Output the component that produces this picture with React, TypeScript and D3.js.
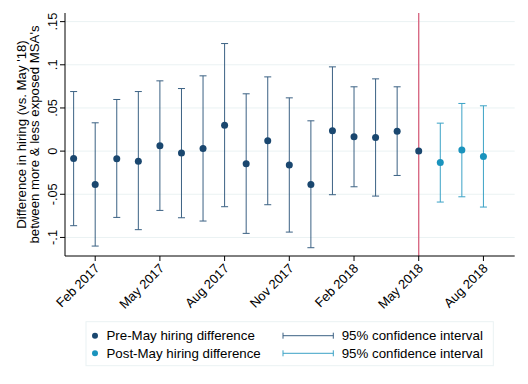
import React from "react";
import { scaleLinear } from "d3";

// months Jan 2017 .. Aug 2018 (index 0..19); May 2018 (16) is the reference month
const months = [
  "Jan 2017", "Feb 2017", "Mar 2017", "Apr 2017", "May 2017", "Jun 2017",
  "Jul 2017", "Aug 2017", "Sep 2017", "Oct 2017", "Nov 2017", "Dec 2017",
  "Jan 2018", "Feb 2018", "Mar 2018", "Apr 2018", "May 2018", "Jun 2018",
  "Jul 2018", "Aug 2018",
];
const estimate = [
  -0.0085, -0.0386, -0.0089, -0.0116, 0.0062, -0.0023, 0.0031, 0.0301, -0.0147, 0.012,
  -0.0162, -0.0386, 0.0235, 0.0166, 0.0158, 0.0231, 0, -0.0131, 0.0012, -0.0062,
];
const ciHigh = [
  0.069, 0.0328, 0.0598, 0.069, 0.0814, 0.0725, 0.0872, 0.1246, 0.0664, 0.086,
  0.0617, 0.0351, 0.0976, 0.0745, 0.0837, 0.0745, null, 0.0324, 0.0552, 0.0525,
];
const ciLow = [
  -0.0864, -0.11, -0.0768, -0.091, -0.0687, -0.0772, -0.081, -0.0644, -0.0953, -0.0621,
  -0.0938, -0.1119, -0.0505, -0.0413, -0.0521, -0.0282, null, -0.059, -0.0529, -0.0648,
];
const refIndex = 16;
const xTicks = [1, 4, 7, 10, 13, 16, 19];
const yTicks = [0.15, 0.1, 0.05, 0, -0.05, -0.1];
const yTickLabels = [".15", ".1", ".05", "0", "-.05", "-.1"];

const NAVY = "#1a476f";
const TEAL = "#1a93bd";
const FONT = "Arial, 'Liberation Sans', sans-serif";

export default function App() {
  const W = 528;
  const H = 384;
  const x = scaleLinear().domain([-0.4, 20.45]).range([65, 514.7]);
  const y = scaleLinear().domain([-0.1215, 0.16]).range([256, 13]);
  const [top, bottom] = [y.range()[1], y.range()[0]];
  const cap = 3.5;

  return (
    <svg
      width={W}
      height={H}
      style={{ position: "absolute", left: 0, top: 0, background: "#fff" }}
      fontFamily={FONT}
    >
      {/* grid */}
      {yTicks.map((t) => (
        <line key={`g${t}`} x1={65} x2={514.7} y1={y(t)} y2={y(t)} stroke="#eaf2f3" strokeWidth={1} />
      ))}

      {/* reference line */}
      <line x1={x(refIndex)} x2={x(refIndex)} y1={top} y2={bottom} stroke="#d6607c" strokeWidth={1.3} />

      {/* confidence intervals */}
      {months.map((m, i) => {
        if (ciHigh[i] == null || ciLow[i] == null) return null;
        const c = i > refIndex ? TEAL : NAVY;
        const cx = x(i);
        return (
          <g key={`ci${m}`} stroke={c} strokeWidth={1} opacity={0.85}>
            <line x1={cx} x2={cx} y1={y(ciHigh[i] as number)} y2={y(ciLow[i] as number)} />
            <line x1={cx - cap} x2={cx + cap} y1={y(ciHigh[i] as number)} y2={y(ciHigh[i] as number)} />
            <line x1={cx - cap} x2={cx + cap} y1={y(ciLow[i] as number)} y2={y(ciLow[i] as number)} />
          </g>
        );
      })}

      {/* points */}
      {months.map((m, i) => (
        <circle key={`p${m}`} cx={x(i)} cy={y(estimate[i])} r={3.5} fill={i > refIndex ? TEAL : NAVY} />
      ))}

      {/* axes */}
      <line x1={65} x2={65} y1={top} y2={bottom} stroke="#000" strokeWidth={1} />
      <line x1={65} x2={514.7} y1={bottom} y2={bottom} stroke="#000" strokeWidth={1} />
      {yTicks.map((t, i) => (
        <g key={`yt${t}`}>
          <line x1={60} x2={65} y1={y(t)} y2={y(t)} stroke="#000" />
          <text
            transform={`translate(52,${y(t)}) rotate(-90)`}
            textAnchor="middle"
            dominantBaseline="central"
            fontSize={12.8}
          >
            {yTickLabels[i]}
          </text>
        </g>
      ))}
      {xTicks.map((t) => (
        <g key={`xt${t}`}>
          <line x1={x(t)} x2={x(t)} y1={bottom} y2={bottom + 5} stroke="#000" />
          <text
            transform={`translate(${x(t) + 2},${bottom + 10}) rotate(-45)`}
            textAnchor="end"
            dominantBaseline="central"
            fontSize={13}
          >
            {months[t]}
          </text>
        </g>
      ))}

      {/* y title */}
      <g transform={`translate(0,${(top + bottom) / 2}) rotate(-90)`} fontSize={13.2} textAnchor="middle">
        <text x={0} y={21} dominantBaseline="central">Difference in hiring (vs. May '18)</text>
        <text x={0} y={34} dominantBaseline="central">between more &amp; less exposed MSA's</text>
      </g>

      {/* legend */}
      <rect x={86} y={321.7} width={407.3} height={44} fill="#fff" stroke="#eaf2f3" strokeWidth={1} />
      {[
        { label: "Pre-May hiring difference", color: NAVY, cy: 335.7 },
        { label: "Post-May hiring difference", color: TEAL, cy: 353.3 },
      ].map((d) => (
        <g key={d.label}>
          <circle cx={95} cy={d.cy} r={3} fill={d.color} />
          <text x={106.5} y={d.cy} dominantBaseline="central" fontSize={13.3}>{d.label}</text>
          <g stroke={d.color} strokeWidth={1} opacity={0.85}>
            <line x1={283} x2={333.3} y1={d.cy} y2={d.cy} />
            <line x1={283} x2={283} y1={d.cy - 3} y2={d.cy + 3} />
            <line x1={333.3} x2={333.3} y1={d.cy - 3} y2={d.cy + 3} />
          </g>
          <text x={341.7} y={d.cy} dominantBaseline="central" fontSize={13.3}>95% confidence interval</text>
        </g>
      ))}
    </svg>
  );
}
